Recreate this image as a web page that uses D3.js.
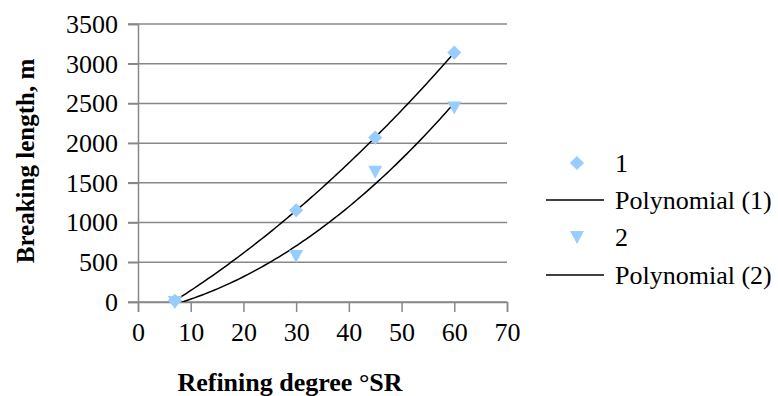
<!DOCTYPE html>
<html>
<head>
<meta charset="utf-8">
<script src="https://cdn.jsdelivr.net/npm/d3@7"></script>
<style>
  body { margin: 0; background: #fff; }
  text { font-family: "Liberation Serif", "Times New Roman", serif; }
</style>
</head>
<body>
<svg id="chart" width="778" height="396"></svg>
<script>
// data
var seriesNames = ['1', '2'];
var refining1 = [7, 30, 45, 60];
var length1 = [15, 1155, 2070, 3140];
var refining2 = [7, 30, 45, 60];
var length2 = [0, 580, 1640, 2450];
var xTicks = [0, 10, 20, 30, 40, 50, 60, 70];
var yTicks = [0, 500, 1000, 1500, 2000, 2500, 3000, 3500];

var markerColor = '#99ccff';
var gridColor = '#888888';
var fontSize = '26px';

var svg = d3.select('#chart');

var plot = {l: 138, r: 507, t: 24, b: 302};

var xScale = d3.scaleLinear().domain([0, 70]).range([plot.l, plot.r]);
var yScale = d3.scaleLinear().domain([0, 3500]).range([plot.b, plot.t]);

// least squares 2nd order polynomial, like the spreadsheet trendline
function polyFit(xs, ys) {
    var n = xs.length, s = [0, 0, 0, 0, 0], t = [0, 0, 0];
    for (var i = 0; i < n; i++) {
        for (var k = 0; k < 5; k++) s[k] += Math.pow(xs[i], k);
        for (var j = 0; j < 3; j++) t[j] += ys[i] * Math.pow(xs[i], j);
    }
    var m = [[s[0], s[1], s[2], t[0]], [s[1], s[2], s[3], t[1]], [s[2], s[3], s[4], t[2]]];
    for (var c = 0; c < 3; c++) {
        for (var r = c + 1; r < 3; r++) {
            var f = m[r][c] / m[c][c];
            for (var q = c; q < 4; q++) m[r][q] -= f * m[c][q];
        }
    }
    var a = [0, 0, 0];
    for (var r2 = 2; r2 >= 0; r2--) {
        var v = m[r2][3];
        for (var q2 = r2 + 1; q2 < 3; q2++) v -= m[r2][q2] * a[q2];
        a[r2] = v / m[r2][r2];
    }
    return function(x) { return a[0] + a[1] * x + a[2] * x * x; };
}

// gridlines
svg.append('g')
    .selectAll('line')
    .data(yTicks)
    .enter()
    .append('line')
    .attr('x1', plot.l - 10)
    .attr('x2', plot.r)
    .attr('y1', function(d) { return yScale(d); })
    .attr('y2', function(d) { return yScale(d); })
    .attr('stroke', gridColor)
    .attr('stroke-width', 1.5);

// y axis
var yAxis = svg.append('g')
    .attr('transform', 'translate(' + plot.l + ',0)')
    .call(d3.axisLeft(yScale).tickValues(yTicks).tickFormat(d3.format('d')).tickSize(10).tickPadding(10));

// x axis
var xAxis = svg.append('g')
    .attr('transform', 'translate(0,' + plot.b + ')')
    .call(d3.axisBottom(xScale).tickValues(xTicks).tickFormat(d3.format('d')).tickSize(10).tickPadding(10));

[xAxis, yAxis].forEach(function(ax) {
    ax.select('.domain').attr('stroke', gridColor).attr('stroke-width', 1.5);
    ax.selectAll('.tick line').attr('stroke', gridColor).attr('stroke-width', 1.5);
    ax.selectAll('.tick text')
        .attr('fill', '#000')
        .style('font-family', '"Liberation Serif", serif')
        .style('font-size', fontSize);
});
xAxis.selectAll('.tick text').attr('y', 14).attr('dy', '0.95em');

// clip for trendlines
svg.append('clipPath').attr('id', 'plotClip')
    .append('rect')
    .attr('x', plot.l).attr('y', plot.t)
    .attr('width', plot.r - plot.l).attr('height', plot.b - plot.t);

var fits = [polyFit(refining1, length1), polyFit(refining2, length2)];
var ranges = [[refining1[0], refining1[refining1.length - 1]], [refining2[0], refining2[refining2.length - 1]]];

var line = d3.line()
    .x(function(d) { return xScale(d[0]); })
    .y(function(d) { return yScale(d[1]); });

fits.forEach(function(f, i) {
    var pts = [];
    var lo = ranges[i][0], hi = ranges[i][1];
    for (var k = 0; k <= 100; k++) {
        var x = lo + (hi - lo) * k / 100;
        pts.push([x, f(x)]);
    }
    svg.append('path')
        .attr('d', line(pts))
        .attr('fill', 'none')
        .attr('stroke', '#000')
        .attr('stroke-width', 1.5)
        .attr('clip-path', 'url(#plotClip)');
});

var diamond = d3.symbol().type(d3.symbolSquare).size(100);
var triangle = 'M-7,-6L7,-6L0,7Z';

// series 1 markers
svg.append('g')
    .selectAll('path')
    .data(refining1.map(function(x, i) { return [x, length1[i]]; }))
    .enter()
    .append('path')
    .attr('d', diamond)
    .attr('transform', function(d) {
        return 'translate(' + xScale(d[0]) + ',' + yScale(d[1]) + ') rotate(45)';
    })
    .attr('fill', markerColor);

// series 2 markers
svg.append('g')
    .selectAll('path')
    .data(refining2.map(function(x, i) { return [x, length2[i]]; }))
    .enter()
    .append('path')
    .attr('d', triangle)
    .attr('transform', function(d) {
        return 'translate(' + xScale(d[0]) + ',' + yScale(d[1]) + ')';
    })
    .attr('fill', markerColor);

// axis titles
svg.append('text')
    .attr('x', 290)
    .attr('y', 391)
    .attr('text-anchor', 'middle')
    .style('font-weight', 'bold')
    .style('font-size', fontSize)
    .text('Refining degree °SR');

svg.append('text')
    .attr('transform', 'translate(34,161) rotate(-90)')
    .attr('text-anchor', 'middle')
    .style('font-weight', 'bold')
    .style('font-size', '25px')
    .text('Breaking length, m');

// legend
var legendItems = [
    {label: seriesNames[0], kind: 'diamond', y: 163},
    {label: 'Polynomial (' + seriesNames[0] + ')', kind: 'line', y: 200},
    {label: seriesNames[1], kind: 'triangle', y: 237},
    {label: 'Polynomial (' + seriesNames[1] + ')', kind: 'line', y: 275}
];

var legend = svg.append('g');
legendItems.forEach(function(d) {
    if (d.kind === 'line') {
        legend.append('line')
            .attr('x1', 546).attr('x2', 604)
            .attr('y1', d.y).attr('y2', d.y)
            .attr('stroke', '#000').attr('stroke-width', 1.5);
    } else if (d.kind === 'diamond') {
        legend.append('path')
            .attr('d', diamond)
            .attr('transform', 'translate(577,' + d.y + ') rotate(45)')
            .attr('fill', markerColor);
    } else {
        legend.append('path')
            .attr('d', triangle)
            .attr('transform', 'translate(577,' + d.y + ')')
            .attr('fill', markerColor);
    }
    legend.append('text')
        .attr('x', 615)
        .attr('y', d.y + 9)
        .style('font-size', fontSize)
        .text(d.label);
});
</script>
</body>
</html>
